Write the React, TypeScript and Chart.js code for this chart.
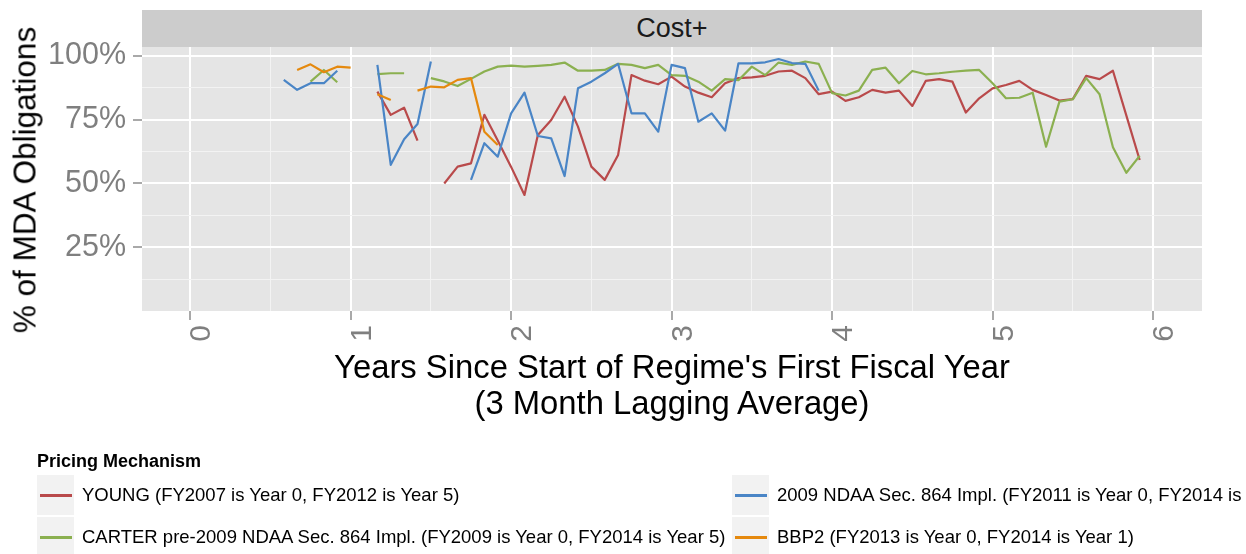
import React, { useEffect, useRef } from "react";
import { Chart, registerables } from "chart.js";

Chart.register(...registerables);

const W = 1246;
const H = 554;
const FONT = '"Liberation Sans", Arial, Helvetica, sans-serif';

// Facet strip text, axis titles
const FACET = "Cost+";
const Y_TITLE = "% of MDA Obligations";
const X_TITLE_LINES = ["Years Since Start of Regime's First Fiscal Year", "(3 Month Lagging Average)"];
const LEGEND_TITLE = "Pricing Mechanism";

// Tick positions (years / share)
const X_MAJOR = [0, 1, 2, 3, 4, 5, 6];
const X_MINOR = [0.5, 1.5, 2.5, 3.5, 4.5, 5.5];
const Y_MAJOR = [0.25, 0.5, 0.75, 1.0];
const Y_MINOR = [0.125, 0.375, 0.625, 0.875];
const Y_LABELS = ["25%", "50%", "75%", "100%"];

// Series names & colours
const SERIES_NAMES = [
  "YOUNG (FY2007 is Year 0, FY2012 is Year 5)",
  "CARTER pre-2009 NDAA Sec. 864 Impl. (FY2009 is Year 0, FY2014 is Year 5)",
  "2009 NDAA Sec. 864 Impl. (FY2011 is Year 0, FY2014 is Year 3)",
  "BBP2 (FY2013 is Year 0, FY2014 is Year 1)",
];
const SERIES_COLORS = ["#B94A4B", "#8BB050", "#4A85C6", "#E5890E"];

// Monthly values (month index = months since start; year = month / 12). null = gap.
const YOUNG_START = 14;
const YOUNG: (number | null)[] = [
  0.86, 0.769, 0.797, 0.668, null,
  0.50, 0.566, 0.579, 0.769, 0.668, 0.565, 0.455, 0.69, 0.749, 0.84, 0.723, 0.566, 0.514, 0.612,
  0.925, 0.903, 0.889, 0.919, 0.88, 0.856, 0.838, 0.893, 0.913, 0.916, 0.922, 0.939, 0.942, 0.913, 0.85,
  0.86, 0.824, 0.838, 0.867, 0.856, 0.864, 0.804, 0.902, 0.909, 0.899, 0.778, 0.834,
  0.873, 0.886, 0.902, 0.867, 0.847, 0.825, 0.831, 0.922, 0.909, 0.942, 0.767, 0.592,
];

const CARTER_START = 9;
const CARTER: (number | null)[] = [
  0.899, 0.945, 0.897, null, null, 0.929, 0.932, 0.932, null,
  0.913, 0.90, 0.882, 0.91, 0.939, 0.958,
  0.962, 0.958, 0.961, 0.965, 0.974, 0.942, 0.942, 0.945, 0.969, 0.965, 0.952, 0.965,
  0.925, 0.922, 0.899, 0.864, 0.909, 0.905, 0.958, 0.925, 0.974, 0.965, 0.978, 0.969,
  0.854, 0.845, 0.864, 0.945, 0.954, 0.893, 0.941, 0.928, 0.932, 0.938, 0.942, 0.945,
  0.893, 0.834, 0.836, 0.856, 0.644, 0.821, 0.83, 0.913, 0.85, 0.642, 0.542, 0.608,
];

const NDAA_START = 7;
const NDAA: (number | null)[] = [
  0.906, 0.867, 0.893, 0.893, 0.942, null, null,
  0.965, 0.573, 0.673, 0.733, 0.978, null, null,
  0.514, 0.658, 0.605,
  0.775, 0.856, 0.686, 0.677, 0.529, 0.873, 0.899, 0.932, 0.969, 0.775, 0.775, 0.703,
  0.965, 0.952, 0.742, 0.775, 0.707, 0.971, 0.971, 0.975, 0.988, 0.972, 0.969, 0.864,
];

const BBP2_START = 8;
const BBP2: (number | null)[] = [
  0.945, 0.967, 0.936, 0.958, 0.954, null,
  0.85, 0.827, null,
  0.864, 0.88, 0.877, 0.906, 0.913, 0.703, 0.651,
];

const SERIES_VALUES = [YOUNG, CARTER, NDAA, BBP2];
const SERIES_STARTS = [YOUNG_START, CARTER_START, NDAA_START, BBP2_START];

const toPoints = (start: number, vals: (number | null)[]) =>
  vals.map((v, i) => ({ x: (start + i) / 12, y: v }));

const panelBg = {
  id: "panelBg",
  beforeDraw(chart: any) {
    const { ctx, chartArea: a } = chart;
    ctx.save();
    ctx.fillStyle = "#E5E5E5";
    ctx.fillRect(a.left, a.top, a.right - a.left, a.bottom - a.top);
    ctx.restore();
  },
};

const isIn = (arr: number[], v: number) => arr.some((a) => Math.abs(a - v) < 1e-9);

function LegendItem({ x, y, color, label }: { x: number; y: number; color: string; label: string }) {
  return (
    <>
      <div style={{ position: "absolute", left: x, top: y, width: 37, height: 40, background: "#F2F2F2" }} />
      <div style={{ position: "absolute", left: x + 3, top: y + 19, width: 32, height: 2.5, background: color }} />
      <div
        style={{
          position: "absolute",
          left: x + 45,
          top: y,
          height: 40,
          font: `18.5px ${FONT}`,
          lineHeight: "40px",
          color: "#000",
          whiteSpace: "nowrap",
        }}
      >
        {label}
      </div>
    </>
  );
}

export default function App() {
  const ref = useRef<HTMLCanvasElement | null>(null);

  useEffect(() => {
    if (!ref.current) return;
    const order = [3, 2, 1, 0]; // first dataset is drawn on top in Chart.js
    const datasets = order.map((k) => ({
      label: SERIES_NAMES[k],
      data: toPoints(SERIES_STARTS[k], SERIES_VALUES[k]),
      borderColor: SERIES_COLORS[k],
      backgroundColor: SERIES_COLORS[k],
      borderWidth: 2.2,
      pointRadius: 0,
      pointHoverRadius: 0,
      tension: 0,
      spanGaps: false,
      fill: false,
      borderJoinStyle: "round" as const,
    }));

    const chart = new Chart(ref.current, {
      type: "line",
      data: { datasets },
      plugins: [panelBg],
      options: {
        responsive: false,
        animation: false,
        devicePixelRatio: 1,
        layout: { padding: { top: 47, right: 44, bottom: H - 311 - 40, left: 0 } },
        plugins: { legend: { display: false }, tooltip: { enabled: false } },
        events: [],
        scales: {
          x: {
            type: "linear",
            min: -0.3,
            max: 6.305,
            afterBuildTicks: (axis: any) => {
              axis.ticks = [...X_MAJOR, ...X_MINOR].sort((a, b) => a - b).map((v) => ({ value: v }));
            },
            afterFit: (axis: any) => {
              axis.height = 40;
            },
            border: { display: false },
            grid: {
              color: (c: any) => (isIn(X_MAJOR, c.tick.value) ? "#FFFFFF" : "#F3F3F3"),
              lineWidth: (c: any) => (isIn(X_MAJOR, c.tick.value) ? 2 : 1),
              tickColor: (c: any) => (isIn(X_MAJOR, c.tick.value) ? "#8C8C8C" : "rgba(0,0,0,0)"),
              tickLength: 9,
              tickWidth: 1.5,
            },
            ticks: {
              autoSkip: false,
              minRotation: 90,
              maxRotation: 90,
              padding: 5,
              labelOffset: 12,
              color: "#7F7F7F",
              font: { family: FONT, size: 30 },
              callback: (v: any) => (isIn(X_MAJOR, Number(v)) ? String(v) : ""),
            },
          },
          y: {
            type: "linear",
            min: 0,
            max: 1.035,
            afterBuildTicks: (axis: any) => {
              axis.ticks = [...Y_MAJOR, ...Y_MINOR].sort((a, b) => a - b).map((v) => ({ value: v }));
            },
            afterFit: (axis: any) => {
              axis.width = 142;
            },
            border: { display: false },
            grid: {
              color: (c: any) => (isIn(Y_MAJOR, c.tick.value) ? "#FFFFFF" : "#F3F3F3"),
              lineWidth: (c: any) => (isIn(Y_MAJOR, c.tick.value) ? 2 : 1),
              tickColor: (c: any) => (isIn(Y_MAJOR, c.tick.value) ? "#8C8C8C" : "rgba(0,0,0,0)"),
              tickLength: 9,
              tickWidth: 1.5,
            },
            ticks: {
              autoSkip: false,
              padding: 7,
              color: "#7F7F7F",
              font: { family: FONT, size: 30.5 },
              callback: (v: any) => {
                const idx = Y_MAJOR.findIndex((m) => Math.abs(m - Number(v)) < 1e-9);
                return idx >= 0 ? Y_LABELS[idx] : "";
              },
            },
          },
        },
      },
    });
    return () => chart.destroy();
  }, []);

  return (
    <div
      style={{
        position: "fixed",
        left: 0,
        top: 0,
        width: W,
        height: H,
        background: "#FFFFFF",
        overflow: "hidden",
        fontFamily: FONT,
      }}
    >
      <canvas ref={ref} width={W} height={H} style={{ position: "absolute", left: 0, top: 0, width: W, height: H }} />
      <div
        style={{
          position: "absolute",
          left: 142,
          top: 10,
          width: 1060,
          height: 37,
          background: "#CCCCCC",
          display: "flex",
          alignItems: "center",
          justifyContent: "center",
          font: `27px ${FONT}`,
          color: "#1A1A1A",
        }}
      >
        {FACET}
      </div>
      <div
        style={{
          position: "absolute",
          left: 25,
          top: 180,
          transform: "translate(-50%, -50%) rotate(-90deg)",
          whiteSpace: "nowrap",
          font: `31.5px ${FONT}`,
          color: "#000",
        }}
      >
        {Y_TITLE}
      </div>
      <div
        style={{
          position: "absolute",
          left: 142,
          top: 349,
          width: 1060,
          textAlign: "center",
          font: `32.8px ${FONT}`,
          lineHeight: "36px",
          color: "#000",
        }}
      >
        {X_TITLE_LINES.map((t) => (
          <div key={t}>{t}</div>
        ))}
      </div>
      <div
        style={{
          position: "absolute",
          left: 37,
          top: 450,
          font: `bold 18px ${FONT}`,
          lineHeight: "22px",
          color: "#000",
          whiteSpace: "nowrap",
        }}
      >
        {LEGEND_TITLE}
      </div>
      <LegendItem x={37} y={475} color={SERIES_COLORS[0]} label={SERIES_NAMES[0]} />
      <LegendItem x={37} y={517} color={SERIES_COLORS[1]} label={SERIES_NAMES[1]} />
      <LegendItem x={732} y={475} color={SERIES_COLORS[2]} label={SERIES_NAMES[2]} />
      <LegendItem x={732} y={517} color={SERIES_COLORS[3]} label={SERIES_NAMES[3]} />
    </div>
  );
}
